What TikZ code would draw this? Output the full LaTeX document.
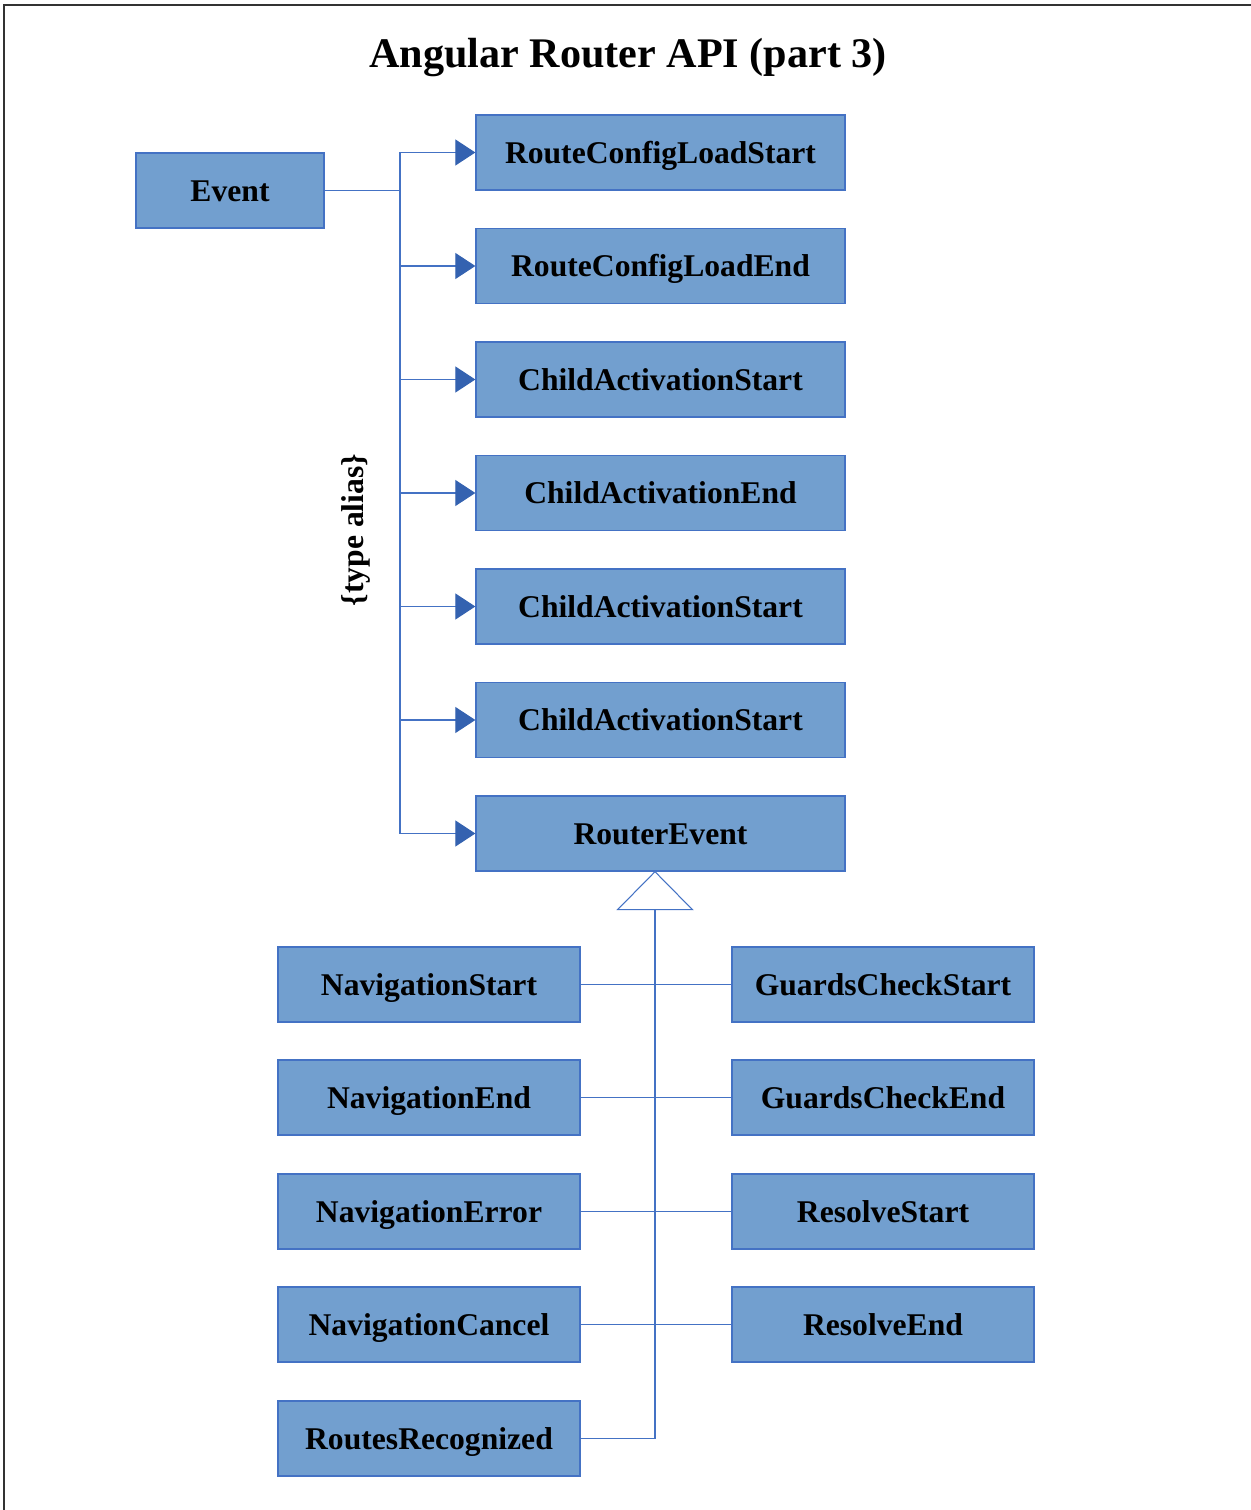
\documentclass[tikz,border=0pt]{standalone}
\usepackage{fontspec}
\setmainfont{Liberation Serif}
\usetikzlibrary{arrows.meta}

\definecolor{boxfill}{RGB}{114,159,207}
\definecolor{boxline}{RGB}{68,114,196}
\definecolor{tipblue}{RGB}{52,98,176}

\tikzset{
  evbox/.style={draw=boxline, fill=boxfill, line width=0.8pt, inner sep=0pt,
    minimum height=1.5cm, text height=12.6pt, text depth=0.6pt,
    font=\fontsize{18}{20}\selectfont\bfseries},
  wide/.style={evbox, minimum width=7.38cm},
  mid/.style={evbox, minimum width=6.04cm},
  link/.style={draw=boxline, line width=0.6pt},
  tip/.style={link, -{Triangle[length=0.4cm, width=0.52cm, color=tipblue]}}
}

\begin{document}
\begin{tikzpicture}[x=0.02cm, y=-0.02cm]
  \useasboundingbox (0,0) rectangle (1250,1510);
  \draw[line width=1.2pt, black!80] (4,1515) -- (4,5) -- (1255,5);

  \node[font=\fontsize{24}{28}\selectfont\bfseries] (title) at (628,58) {Angular Router API (part 3)};

  % type alias column
  \node[evbox, minimum width=3.76cm] (event) at (230,190.5) {Event};
  \node[wide] (cfgstart) at (660.5,152.5) {RouteConfigLoadStart};
  \node[wide] (cfgend) at (660.5,266) {RouteConfigLoadEnd};
  \node[wide] (childstarta) at (660.5,379.5) {ChildActivationStart};
  \node[wide] (childend) at (660.5,493) {ChildActivationEnd};
  \node[wide] (childstartb) at (660.5,606.5) {ChildActivationStart};
  \node[wide] (childstartc) at (660.5,720) {ChildActivationStart};
  \node[wide] (routerevent) at (660.5,833.5) {RouterEvent};
  \node[rotate=90, font=\fontsize{18}{20}\selectfont\bfseries] (alias) at (356,530) {\{type alias\}};

  \coordinate (trunk) at (400,152.5);
  \draw[link] (event.east) -- (event.east -| trunk);
  \draw[link] (trunk) -- (trunk |- routerevent.west);
  \foreach \n in {cfgstart,cfgend,childstarta,childend,childstartb,childstartc,routerevent}
    \draw[tip] (trunk |- \n.west) -- (\n.west);

  % subclasses of RouterEvent
  \node[mid] (navstart) at (429,984.5) {NavigationStart};
  \node[mid] (navend) at (429,1097.5) {NavigationEnd};
  \node[mid] (naverror) at (429,1211.5) {NavigationError};
  \node[mid] (navcancel) at (429,1324.5) {NavigationCancel};
  \node[mid] (recognized) at (429,1438.5) {RoutesRecognized};
  \node[mid] (guardstart) at (883,984.5) {GuardsCheckStart};
  \node[mid] (guardend) at (883,1097.5) {GuardsCheckEnd};
  \node[mid] (resstart) at (883,1211.5) {ResolveStart};
  \node[mid] (resend) at (883,1324.5) {ResolveEnd};

  \coordinate (apex) at ([xshift=-0.11cm]routerevent.south);
  \coordinate (tribase) at ([yshift=-0.76cm]apex);
  \draw[link] (navstart.east) -- (guardstart.west);
  \draw[link] (navend.east) -- (guardend.west);
  \draw[link] (naverror.east) -- (resstart.west);
  \draw[link] (navcancel.east) -- (resend.west);
  \draw[link] (tribase) -- (tribase |- recognized.east) -- (recognized.east);
  \draw[link, fill=white] (apex) -- ++(-37.5,38) -- ++(75,0) -- cycle;
\end{tikzpicture}
\end{document}
